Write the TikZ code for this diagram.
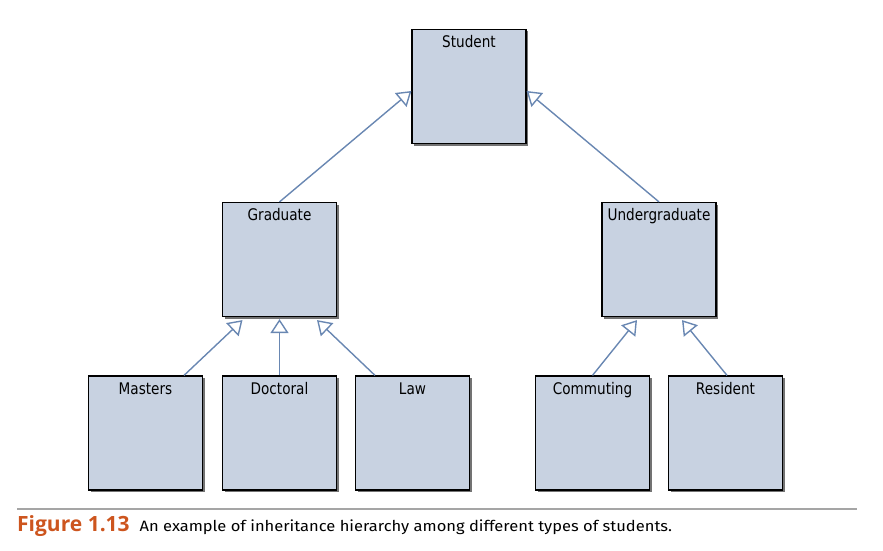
\documentclass[tikz,border=0pt]{standalone}
\usepackage{fontspec}
\usepackage{tikz}
\usetikzlibrary{arrows.meta, positioning, shadows}
\newfontfamily\boxfont{DejaVu Sans}[FakeStretch=0.85]
\newfontfamily\capfont{Fira Sans}[FakeStretch=1.1]
\newfontfamily\figfont{Open Sans}
\definecolor{boxfill}{RGB}{200,210,225}
\definecolor{linkblue}{RGB}{105,135,178}
\definecolor{figorange}{RGB}{205,85,30}
\definecolor{rulegray}{RGB}{165,165,165}

\begin{document}
\begin{tikzpicture}[x=1pt, y=-1pt,
    classbox/.style={draw=black, line width=1.2pt, fill=boxfill,
        minimum width=114pt, inner sep=4pt, text height=14pt, text depth=92pt,
        font=\boxfont\fontsize{16}{18}\selectfont,
        drop shadow={shadow xshift=2pt, shadow yshift=-2pt, fill=black!55, opacity=1}},
    inherits/.style={-{Triangle[open, width=18pt, length=14pt]}, draw=linkblue, line width=1.4pt}]
    \useasboundingbox (0,0) rectangle (883,551);
    \node[classbox] (Student) at (469,86.5) {Student};
    \node[classbox] (Graduate) at (279.5,259.5) {Graduate};
    \node[classbox] (Undergraduate) at (659,259.5) {Undergraduate};
    \node[classbox] (Masters) at (145.5,433) {Masters};
    \node[classbox] (Doctoral) at (279.5,433) {Doctoral};
    \node[classbox] (Law) at (412.5,433) {Law};
    \node[classbox] (Commuting) at (592.5,433) {Commuting};
    \node[classbox] (Resident) at (725.5,433) {Resident};
    \draw[inherits] (Graduate.north) -- ([yshift=-4.5pt]Student.west);
    \draw[inherits] (Undergraduate.north) -- ([yshift=-4.5pt]Student.east);
    \draw[inherits] ([xshift=38.5pt]Masters.north) -- ([xshift=-37pt, yshift=-3pt]Graduate.south);
    \draw[inherits] (Doctoral.north) -- ([yshift=-2pt]Graduate.south);
    \draw[inherits] ([xshift=-37.5pt]Law.north) -- ([xshift=37.5pt, yshift=-3pt]Graduate.south);
    \draw[inherits] (Commuting.north) -- ([xshift=-22pt, yshift=-3pt]Undergraduate.south);
    \draw[inherits] ([xshift=1.5pt]Resident.north) -- ([xshift=23pt, yshift=-3pt]Undergraduate.south);
    \coordinate (ruleL) at (17,508.5);
    \coordinate (ruleR) at (857,508.5);
    \draw[rulegray, line width=2pt] (ruleL) -- (ruleR);
    \node[anchor=base west, inner sep=0pt, font=\capfont\fontsize{15}{18}\selectfont] (caption) at (17,531.5)
        {\textcolor{figorange}{\figfont\bfseries\fontsize{21}{22}\selectfont Figure 1.13}\hspace{10pt}An example of inheritance hierarchy among different types of students.};
\end{tikzpicture}
\end{document}
